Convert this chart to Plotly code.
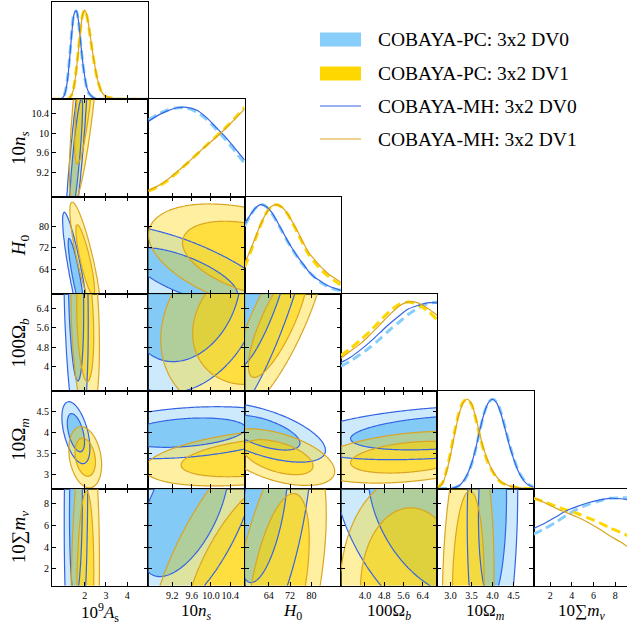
import numpy as np
import plotly.graph_objects as go

W, H = 627, 630

# ---------------- axis / parameter info ----------------
X_TITLES = ["10<sup>9</sup><i>A</i><sub>s</sub>", "10<i>n</i><sub><i>s</i></sub>", "<i>H</i><sub>0</sub>",
            "100Ω<sub><i>b</i></sub>", "10Ω<sub><i>m</i></sub>", "10∑<i>m</i><sub><i>ν</i></sub>"]
PARAM_RANGES = [[0.45, 5.0], [8.7, 10.7], [55.0, 91.0], [3.0, 7.0], [2.68, 4.98], [0.46, 9.35]]
TICK_VALS = [[2, 3, 4], [9.2, 9.6, 10.0, 10.4], [64, 72, 80], [4.0, 4.8, 5.6, 6.4],
             [3.0, 3.5, 4.0, 4.5], [2, 4, 6, 8]]
X_TICK_TEXT = [["2", "3", "4"], ["9.2", "9.6", "10.0", "10.4"], ["64", "72", "80"],
               ["4.0", "4.8", "5.6", "6.4"], ["3.0", "3.5", "4.0", "4.5"], ["2", "4", "6", "8"]]
Y_TICK_TEXT = [["2", "3", "4"], ["9.2", "9.6", "10", "10.4"], ["64", "72", "80"],
               ["4", "4.8", "5.6", "6.4"], ["3", "3.5", "4", "4.5"], ["2", "4", "6", "8"]]

LEGEND_LABELS = ["COBAYA-PC: 3x2 DV0", "COBAYA-PC: 3x2 DV1", "COBAYA-MH: 3x2 DV0", "COBAYA-MH: 3x2 DV1"]

# ---------------- 1D marginals (normalised) ----------------
AS_GRID = [0.45, 0.8, 1.0, 1.1, 1.2, 1.3, 1.4, 1.5, 1.6, 1.7, 1.8, 1.9, 2.0, 2.1, 2.2, 2.4, 2.6, 2.8, 3.0, 3.5, 4.0, 5.0]
AS_MH0 = [0, 0, 0.03, 0.10, 0.25, 0.50, 0.78, 0.96, 0.99, 0.88, 0.65, 0.42, 0.25, 0.13, 0.07, 0.02, 0.005, 0, 0, 0, 0, 0]
AS_PC0 = [0, 0, 0.03, 0.11, 0.27, 0.52, 0.80, 0.97, 0.99, 0.87, 0.64, 0.41, 0.24, 0.12, 0.06, 0.02, 0.005, 0, 0, 0, 0, 0]
AS_MH1 = [0, 0, 0, 0, 0, 0.02, 0.06, 0.15, 0.33, 0.55, 0.78, 0.95, 1.0, 0.94, 0.80, 0.48, 0.22, 0.08, 0.03, 0.005, 0, 0]
AS_PC1 = [0, 0, 0, 0, 0, 0.02, 0.06, 0.16, 0.34, 0.56, 0.79, 0.95, 1.0, 0.93, 0.79, 0.47, 0.22, 0.08, 0.03, 0.005, 0, 0]

NS_GRID = [8.7, 8.9, 9.1, 9.3, 9.5, 9.7, 9.9, 10.1, 10.3, 10.5, 10.7]
NS_MH0 = [0.84, 0.91, 0.96, 0.995, 1.0, 0.97, 0.89, 0.78, 0.67, 0.54, 0.41]
NS_PC0 = [0.86, 0.92, 0.97, 0.995, 0.99, 0.95, 0.87, 0.76, 0.64, 0.51, 0.37]
NS_MH1 = [0.07, 0.12, 0.19, 0.28, 0.37, 0.47, 0.57, 0.66, 0.76, 0.87, 0.98]
NS_PC1 = [0.06, 0.11, 0.18, 0.27, 0.37, 0.47, 0.57, 0.67, 0.77, 0.88, 1.0]

H0_GRID = [55, 57, 59, 61, 63, 65, 67, 69, 71, 73, 75, 77, 79, 81, 83, 85, 87, 89, 91]
H0_MH0 = [0.78, 0.88, 0.96, 1.0, 0.98, 0.92, 0.82, 0.71, 0.60, 0.50, 0.41, 0.33, 0.25, 0.19, 0.15, 0.11, 0.08, 0.06, 0.04]
H0_PC0 = [0.76, 0.87, 0.96, 1.0, 0.98, 0.91, 0.81, 0.70, 0.59, 0.49, 0.40, 0.32, 0.25, 0.19, 0.14, 0.10, 0.07, 0.05, 0.04]
H0_MH1 = [0.34, 0.48, 0.63, 0.78, 0.90, 0.98, 1.0, 0.97, 0.90, 0.80, 0.69, 0.57, 0.46, 0.39, 0.32, 0.26, 0.21, 0.17, 0.13]
H0_PC1 = [0.30, 0.45, 0.61, 0.77, 0.90, 0.98, 1.0, 0.97, 0.90, 0.79, 0.67, 0.55, 0.44, 0.36, 0.29, 0.23, 0.18, 0.14, 0.10]

OB_GRID = [3.0, 3.4, 3.8, 4.2, 4.6, 5.0, 5.4, 5.8, 6.2, 6.6, 7.0]
OB_MH0 = [0.32, 0.38, 0.46, 0.55, 0.65, 0.75, 0.84, 0.92, 0.96, 0.99, 0.99]
OB_PC0 = [0.28, 0.34, 0.41, 0.49, 0.58, 0.68, 0.77, 0.86, 0.93, 0.98, 1.0]
OB_MH1 = [0.37, 0.45, 0.53, 0.63, 0.74, 0.85, 0.95, 1.0, 0.99, 0.93, 0.85]
OB_PC1 = [0.40, 0.48, 0.57, 0.67, 0.78, 0.89, 0.97, 1.0, 0.97, 0.90, 0.80]

OM_GRID = [2.7, 2.8, 2.9, 3.0, 3.1, 3.2, 3.3, 3.4, 3.5, 3.6, 3.7, 3.8, 3.9, 4.0, 4.1, 4.2, 4.3, 4.4, 4.5, 4.6, 4.7, 4.8, 4.9, 5.0]
OM_MH0 = [0, 0, 0, 0, 0.01, 0.03, 0.08, 0.16, 0.28, 0.45, 0.66, 0.84, 0.96, 1.0, 0.96, 0.84, 0.67, 0.49, 0.34, 0.21, 0.12, 0.06, 0.03, 0.01]
OM_PC0 = [0, 0, 0, 0, 0.01, 0.03, 0.07, 0.15, 0.27, 0.44, 0.65, 0.84, 0.96, 1.0, 0.97, 0.86, 0.69, 0.51, 0.35, 0.22, 0.13, 0.07, 0.035, 0.015]
OM_MH1 = [0.01, 0.05, 0.18, 0.38, 0.62, 0.83, 0.96, 1.0, 0.95, 0.80, 0.60, 0.43, 0.30, 0.20, 0.13, 0.08, 0.05, 0.03, 0.02, 0.01, 0.005, 0, 0, 0]
OM_PC1 = [0.015, 0.06, 0.20, 0.41, 0.65, 0.85, 0.97, 1.0, 0.94, 0.78, 0.58, 0.41, 0.28, 0.19, 0.12, 0.07, 0.045, 0.03, 0.02, 0.01, 0.005, 0, 0, 0]

MNU_GRID = [0.46, 1.5, 2.5, 3.5, 4.5, 5.5, 6.5, 7.5, 8.5, 9.35]
MNU_MH0 = [0.64, 0.70, 0.77, 0.84, 0.89, 0.93, 0.96, 0.98, 0.975, 0.96]
MNU_PC0 = [0.58, 0.64, 0.71, 0.79, 0.86, 0.91, 0.95, 0.98, 0.985, 0.985]
MNU_MH1 = [0.99, 0.93, 0.87, 0.82, 0.77, 0.71, 0.64, 0.56, 0.49, 0.42]
MNU_PC1 = [0.98, 0.94, 0.89, 0.85, 0.81, 0.76, 0.71, 0.65, 0.60, 0.55]

GRIDS_1D = [AS_GRID, NS_GRID, H0_GRID, OB_GRID, OM_GRID, MNU_GRID]
PC0_1D = [AS_PC0, NS_PC0, H0_PC0, OB_PC0, OM_PC0, MNU_PC0]
PC1_1D = [AS_PC1, NS_PC1, H0_PC1, OB_PC1, OM_PC1, MNU_PC1]
MH0_1D = [AS_MH0, NS_MH0, H0_MH0, OB_MH0, OM_MH0, MNU_MH0]
MH1_1D = [AS_MH1, NS_MH1, H0_MH1, OB_MH1, OM_MH1, MNU_MH1]

# ---------------- 2D posterior summaries (estimated from contours) ----------------
MEAN_DV0 = [1.58, 9.45, 62.0, 7.2, 4.0, 7.7]
SIGMA_DV0 = [0.27, 1.1, 10.0, 2.8, 0.30, 7.6]
MEAN_DV1 = [2.02, 11.0, 67.5, 5.9, 3.42, 0.3]
SIGMA_DV1 = [0.32, 1.05, 9.5, 2.0, 0.30, 7.0]
CORR_DV0 = [[1, 0.85, -0.88, -0.25, -0.50, 0.10],
            [0.85, 1, -0.70, 0.20, 0.30, 0.55],
            [-0.88, -0.70, 1, 0.80, -0.60, 0.50],
            [-0.25, 0.20, 0.80, 1, 0.35, -0.35],
            [-0.50, 0.30, -0.60, 0.35, 1, 0.10],
            [0.10, 0.55, 0.50, -0.35, 0.10, 1]]
CORR_DV1 = [[1, 0.75, -0.85, -0.25, -0.25, 0.15],
            [0.75, 1, -0.45, 0.20, 0.40, 0.50],
            [-0.85, -0.45, 1, 0.80, -0.50, 0.50],
            [-0.25, 0.20, 0.80, 1, 0.35, 0.0],
            [-0.25, 0.40, -0.50, 0.35, 1, 0.10],
            [0.15, 0.50, 0.50, 0.0, 0.10, 1]]

# ---------------- styles ----------------
BLUE_PC = "rgb(135,206,250)"
GOLD_PC = "rgb(255,215,0)"
BLUE_MH = "rgb(52,100,228)"
GOLD_MH = "rgb(218,165,32)"
BLUE_FILL95 = "rgba(135,206,250,0.42)"
BLUE_FILL68 = "rgba(118,196,246,0.85)"
GOLD_FILL95 = "rgba(255,215,0,0.37)"
GOLD_FILL68 = "rgba(255,212,0,0.60)"
SERIF = "Liberation Serif, DejaVu Serif, serif"

L0, T0, CW, RH = 52.0, 2.0, 96.3, 97.3
N = 6


def xdom(j):
    a = L0 + CW * j
    b = min(a + CW, W)
    return [a / W, b / W]


def ydom(i):
    t = T0 + RH * i
    return [1 - (t + RH) / H, 1 - t / H]


def xrange_of(j):
    lo, hi = PARAM_RANGES[j]
    a = L0 + CW * j
    frac = (min(a + CW, W) - a) / CW
    return [lo, lo + (hi - lo) * frac]


def gauss_density(mx, my, sx, sy, rho, xr, yr, n=64):
    x = np.linspace(xr[0], xr[1], n)
    y = np.linspace(yr[0], yr[1], n)
    X, Y = np.meshgrid(x, y)
    dx = (X - mx) / sx
    dy = (Y - my) / sy
    q = (dx * dx - 2 * rho * dx * dy + dy * dy) / (1 - rho * rho)
    Z = np.exp(-0.5 * q)
    Z = Z / Z.max()
    zs = np.sort(Z.ravel())[::-1]
    cs = np.cumsum(zs) / zs.sum()
    l68 = zs[np.searchsorted(cs, 0.68)]
    l95 = zs[np.searchsorted(cs, 0.95)]
    return x, y, np.round(Z, 5), float(l68), float(l95)


fig = go.Figure()
layout = {}


def axname(k, c):
    return f"{c}axis" if k == 1 else f"{c}axis{k}"


def axref(k, c):
    return c if k == 1 else f"{c}{k}"


base_axis = dict(showgrid=False, zeroline=False, showline=True, linecolor="black", linewidth=1.2,
                 ticklen=4, tickwidth=1, tickcolor="black", tickangle=0,
                 tickfont=dict(family=SERIF, size=10, color="black"))

k = 0
for i in range(N):
    for j in range(i + 1):
        k += 1
        xa, ya = axref(k, "x"), axref(k, "y")
        xax = dict(base_axis, domain=xdom(j), range=xrange_of(j), anchor=ya,
                   tickmode="array", tickvals=TICK_VALS[j], ticktext=X_TICK_TEXT[j],
                   showticklabels=(i == N - 1), ticks="inside")
        if i == j:
            xax["mirror"] = True
            yax = dict(base_axis, domain=ydom(i), range=[0, 1.09], anchor=xa, ticks="",
                       showticklabels=False, mirror=True)
            g = GRIDS_1D[i]
            for vals, col in ((PC0_1D[i], BLUE_PC), (PC1_1D[i], GOLD_PC)):
                fig.add_trace(go.Scatter(x=g, y=vals, mode="lines", xaxis=xa, yaxis=ya,
                                         line=dict(color=col, width=3, dash="9px,5px", shape="spline", smoothing=0.8),
                                         showlegend=False, hoverinfo="skip"))
            for vals, col in ((MH0_1D[i], BLUE_MH), (MH1_1D[i], GOLD_MH)):
                fig.add_trace(go.Scatter(x=g, y=vals, mode="lines", xaxis=xa, yaxis=ya,
                                         line=dict(color=col, width=1.2, shape="spline", smoothing=0.8),
                                         showlegend=False, hoverinfo="skip"))
        else:
            xax["mirror"] = "ticks"
            yax = dict(base_axis, domain=ydom(i), range=PARAM_RANGES[i], anchor=xa,
                       tickmode="array", tickvals=TICK_VALS[i], ticktext=Y_TICK_TEXT[i],
                       showticklabels=(j == 0), ticks="inside", mirror="ticks")
            series = [(MEAN_DV0, SIGMA_DV0, CORR_DV0, BLUE_FILL95, BLUE_FILL68, BLUE_MH),
                      (MEAN_DV1, SIGMA_DV1, CORR_DV1, GOLD_FILL95, GOLD_FILL68, GOLD_MH)]
            dens = []
            for mean, sig, corr, f95, f68, lc in series:
                x, y, Z, l68, l95 = gauss_density(mean[j], mean[i], sig[j], sig[i], corr[j][i],
                                                  PARAM_RANGES[j], PARAM_RANGES[i])
                dens.append((x, y, Z, l68, l95, lc))
                # plotly shades the region that violates the constraint -> "<" shades z >= level
                for lev, fc in ((l95, f95), (l68, f68)):
                    fig.add_trace(go.Contour(x=x, y=y, z=Z, xaxis=xa, yaxis=ya, showscale=False,
                                             hoverinfo="skip", autocontour=False,
                                             contours=dict(type="constraint", operation="<", value=lev),
                                             fillcolor=fc, line=dict(width=0)))
            for x, y, Z, l68, l95, lc in dens:
                fig.add_trace(go.Contour(x=x, y=y, z=Z, xaxis=xa, yaxis=ya, showscale=False,
                                         hoverinfo="skip", autocontour=False,
                                         contours=dict(coloring="none", start=l95, end=l68,
                                                       size=(l68 - l95) * 0.999),
                                         line=dict(color=lc, width=1.2, smoothing=1)))
        layout[axname(k, "x")] = xax
        layout[axname(k, "y")] = yax

# ---------------- axis titles ----------------
annotations = []
for j in range(N):
    cx = (L0 + CW * j + CW / 2) / W
    annotations.append(dict(text=X_TITLES[j], x=min(cx, 1), y=1 - 612 / H, xref="paper", yref="paper",
                            xanchor="center", yanchor="middle", showarrow=False,
                            font=dict(family=SERIF, size=17, color="black")))
for i in range(1, N):
    cy = 1 - (T0 + RH * i + RH / 2) / H
    annotations.append(dict(text=X_TITLES[i], x=20 / W, y=cy, xref="paper", yref="paper",
                            xanchor="center", yanchor="middle", showarrow=False, textangle=-90,
                            font=dict(family=SERIF, size=19, color="black")))

# ---------------- legend (drawn as patches + text) ----------------
shapes = []
LEG_Y = [39.5, 73.5, 106.0, 139.0]
LEG_STYLE = [("fill", BLUE_PC), ("fill", GOLD_PC), ("line", BLUE_MH), ("line", GOLD_MH)]
for yc, (kind, col), lab in zip(LEG_Y, LEG_STYLE, LEGEND_LABELS):
    if kind == "fill":
        shapes.append(dict(type="rect", xref="paper", yref="paper", x0=320 / W, x1=361 / W,
                           y0=1 - (yc + 7) / H, y1=1 - (yc - 7) / H, fillcolor=col, line=dict(width=0)))
    else:
        shapes.append(dict(type="line", xref="paper", yref="paper", x0=320 / W, x1=361 / W,
                           y0=1 - yc / H, y1=1 - yc / H, line=dict(color=col, width=1.2)))
    annotations.append(dict(text=lab, x=376 / W, y=1 - yc / H, xref="paper", yref="paper",
                            xanchor="left", yanchor="middle", showarrow=False,
                            font=dict(family=SERIF, size=19.5, color="black")))

fig.update_layout(width=W, height=H, margin=dict(l=0, r=0, t=0, b=0), paper_bgcolor="white",
                  plot_bgcolor="rgba(0,0,0,0)", showlegend=False, annotations=annotations, shapes=shapes,
                  **layout)
fig.write_html("out.html")
